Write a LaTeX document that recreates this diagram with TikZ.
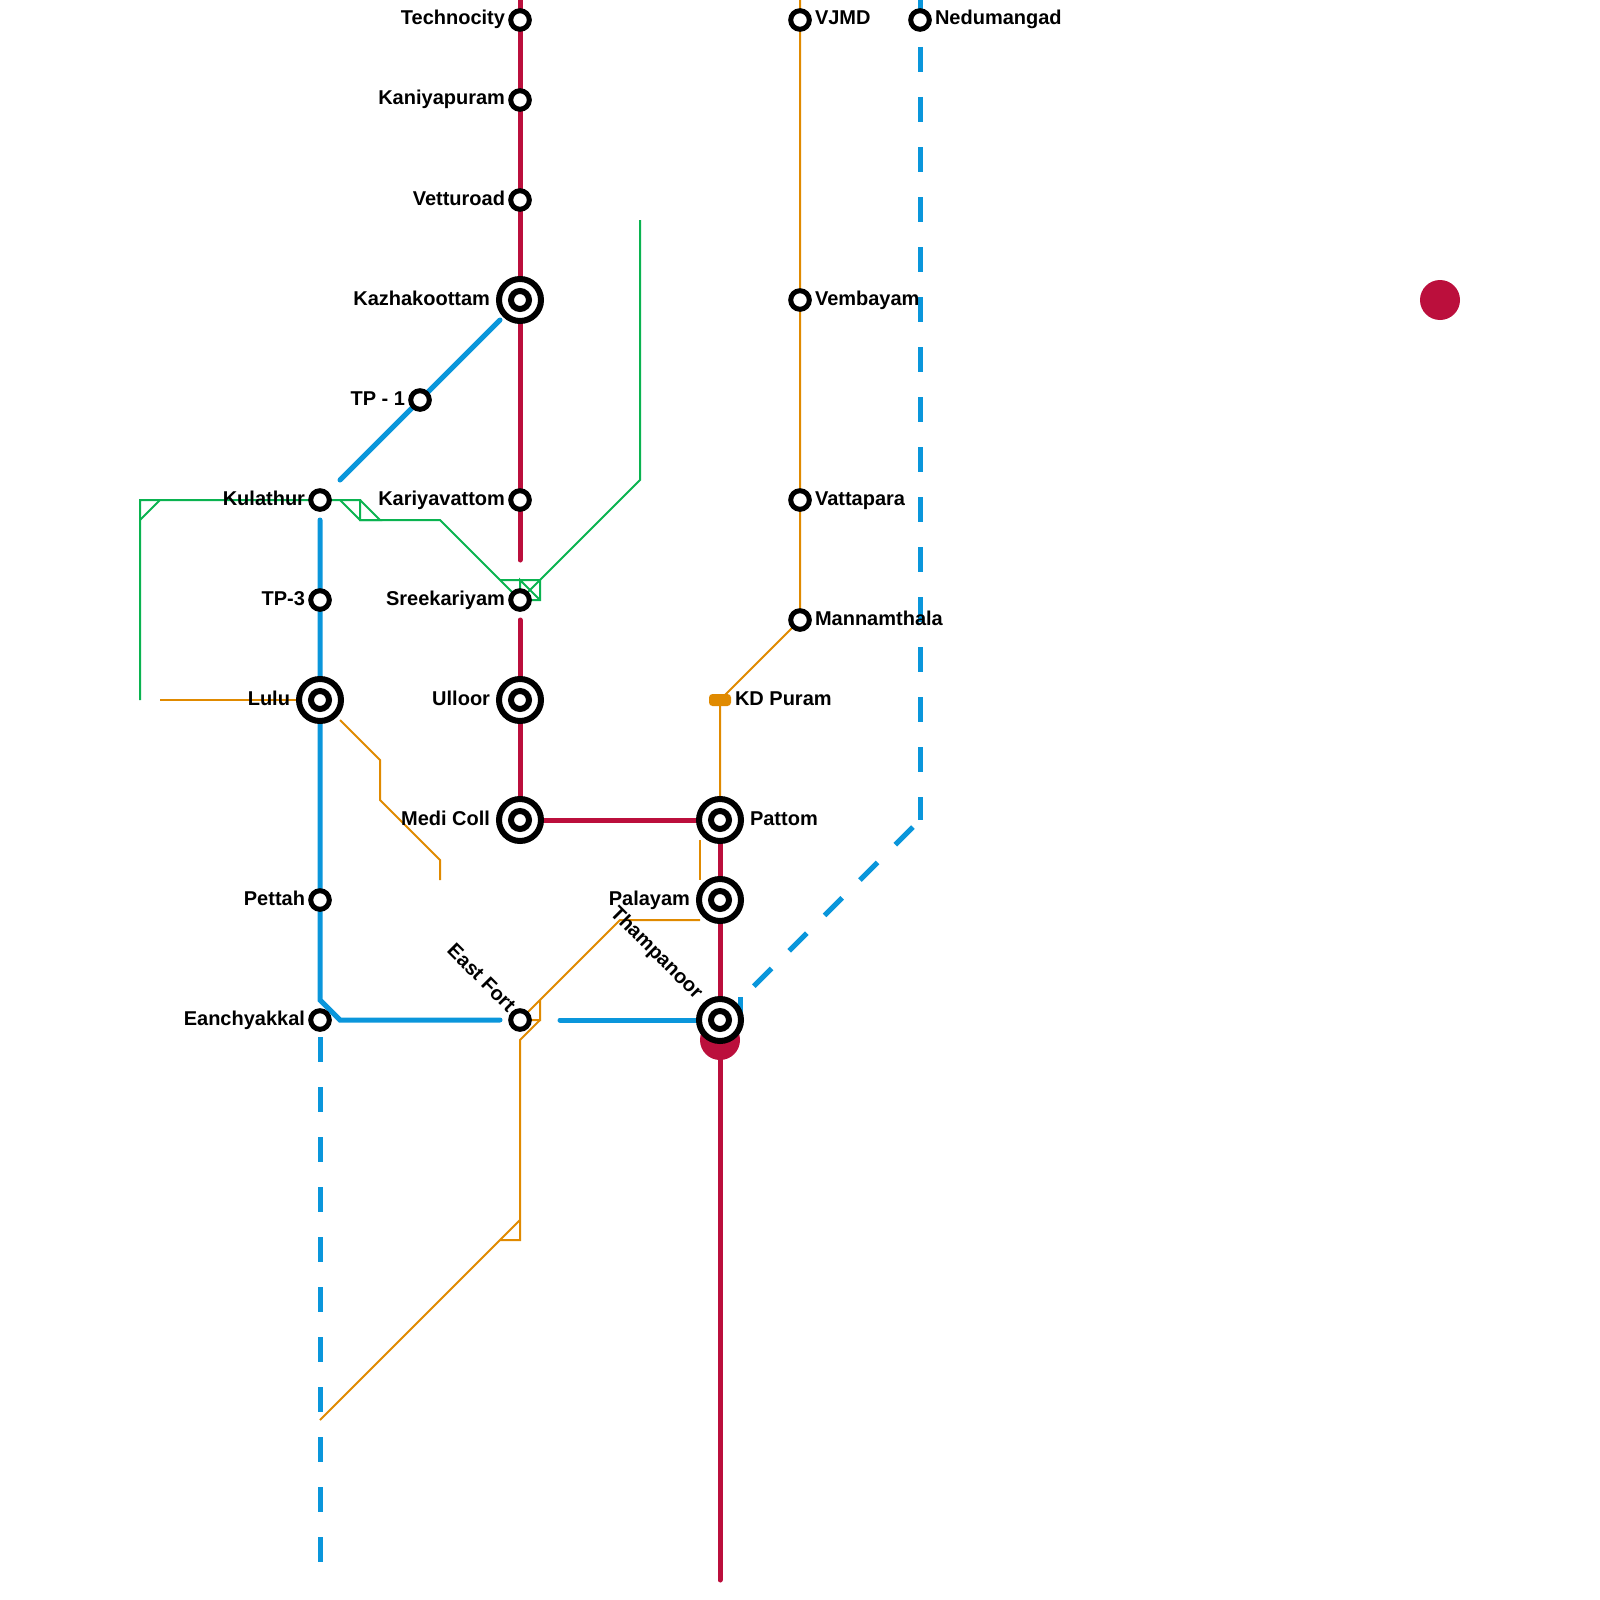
\documentclass[tikz,border=0pt]{standalone}
\usepackage{fontspec}
\setmainfont{Liberation Sans}
\usetikzlibrary{backgrounds}
\definecolor{lred}{HTML}{BB0F3C}
\definecolor{lblue}{HTML}{0A96DB}
\definecolor{lorange}{HTML}{E08A00}
\definecolor{lgreen}{HTML}{0AB350}
\tikzset{
  x=1pt,y=-1pt,
  ring/.style={circle,draw=black,fill=white,line width=5pt,inner sep=0pt,outer sep=0pt,minimum size=18.6pt},
  hubinner/.style={ring,line width=6pt,minimum size=18pt},
  hubring/.style={ring,line width=6pt,minimum size=42pt},
  redline/.style={draw=lred,line width=5pt,line cap=round,line join=round},
  blueline/.style={draw=lblue,line width=5pt,line cap=round,line join=miter},
  bluedash/.style={draw=lblue,line width=5pt,dash pattern=on 25pt off 25pt},
  orangeline/.style={draw=lorange,line width=2pt,line join=miter},
  greenline/.style={draw=lgreen,line width=2pt,line join=miter},
  reddot/.style={circle,fill=lred,inner sep=0pt,outer sep=0pt,minimum size=40pt},
  kdstop/.style={rectangle,rounded corners=3.5pt,fill=lorange,inner sep=0pt,outer sep=0pt,minimum width=22pt,minimum height=12pt},
  lab/.style={font=\bfseries\fontsize{20}{24}\selectfont,text=black,inner sep=0pt,outer sep=0pt},
  labl/.style={lab,anchor=base east},
  labr/.style={lab,anchor=base west},
}
\newcommand{\hubstop}[2]{\node[hubring] (#1o) at (#2) {};\node[hubinner] (#1) at (#2) {};}
\begin{document}
\begin{tikzpicture}
\useasboundingbox (0,0) rectangle (1600,1600);
% stations
\node[ring] (techno) at (520,20) {};
\node[ring] (kani) at (520,100) {};
\node[ring] (vettu) at (520,200) {};
\hubstop{kazh}{520,300}
\node[ring] (tpone) at (420,400) {};
\node[ring] (kari) at (520,500) {};
\node[ring] (sree) at (520,600) {};
\hubstop{ulloor}{520,700}
\hubstop{medi}{520,820}
\node[ring] (kulathur) at (320,500) {};
\node[ring] (tpthree) at (320,600) {};
\hubstop{lulu}{320,700}
\node[ring] (pettah) at (320,900) {};
\node[ring] (eanch) at (320,1020) {};
\node[ring] (eastfort) at (520,1020) {};
\hubstop{thampa}{720,1020}
\hubstop{palayam}{720,900}
\hubstop{pattom}{720,820}
\node[kdstop] (kd) at (720,700) {};
\node[ring] (manna) at (800,620) {};
\node[ring] (vatta) at (800,500) {};
\node[ring] (vemba) at (800,300) {};
\node[ring] (vjmd) at (800,20) {};
\node[ring] (nedu) at (920,20) {};
% free end points and bends
\foreach \n/\p in {
 gA/{140,700},gB/{140,500},gC/{360,500},gD/{360,520},gE/{440,520},gF/{500,580},gG/{540,580},gH/{540,600},gI/{520,580},gJ/{640,480},gK/{640,220},gL/{140,520},gM/{160,500},gN/{340,500},gO/{380,520},gP/{520,600},
 oA/{160,700},oB/{340,720},oC/{380,760},oD/{380,800},oE/{440,860},oF/{440,880},oG/{700,840},oH/{700,880},oI/{700,920},oJ/{620,920},oK/{520,1020},oL/{540,1000},oM/{540,1020},oN/{520,1040},oO/{520,1240},oP/{500,1240},oQ/{520,1220},oR/{320,1420},oS/{800,0},
 bA/{500,320},bB/{340,480},bC/{320,520},bD/{320,1000},bE/{340,1020},bF/{500,1020},bG/{560,1020},bH/{920,0},bI/{920,820},bJ/{740,1000},bK/{740,1020},bL/{320,1037},bM/{320,1562},
 rA/{520,0},rB/{520,560},rC/{520,620},rD/{720,1580}}
 {\coordinate (\n) at (\p);}
\begin{scope}[on background layer]
 \path[greenline] (gA) -- (gB) -- (gC) -- (gD) -- (gE) -- (gP);
 \path[greenline] (gL) -- (gM);
 \path[greenline] (gN) -- (gD) -- (gO) -- (gC);
 \path[greenline] (gF) -- (gG) -- (gH) -- (gP) -- (gI) -- (gH);
 \path[greenline] (gP) -- (gG) -- (gJ) -- (gK);
 \path[orangeline] (oA) -- (lulu.center);
 \path[orangeline] (oB) -- (oC) -- (oD) -- (oE) -- (oF);
 \path[orangeline] (oG) -- (oH);
 \path[orangeline] (oI) -- (oJ) -- (oK) -- (oM) -- (oL) -- (oK);
 \path[orangeline] (oM) -- (oN) -- (oO) -- (oP);
 \path[orangeline] (oQ) -- (oR);
 \path[orangeline] (oS) -- (manna.center) -- (kd.center) -- (pattom.center);
 \path[blueline] (bA) -- (bB);
 \path[blueline] (bC) -- (bD) -- (bE) -- (bF);
 \path[blueline] (bG) -- (thampa.center);
 \path[draw=lblue,line width=5pt] (bJ) ++(0,-3) -- (bK);
 \path[bluedash,dash phase=3pt] (bH) -- (bI);
 \path[bluedash,dash phase=40pt] (bI) -- (bJ);
 \path[bluedash] (bL) -- (bM);
 \node[reddot] (dotA) at (720,1040) {};
 \node[reddot] (dotB) at (1440,300) {};
 \path[redline] (rA) -- (rB);
 \path[redline] (rC) -- (medi.center) -- (pattom.center) -- (rD);
\end{scope}
% labels
\node[labl] (ltechno) at (505,25) {Technocity};
\node[labl] (lkani) at (505,105) {Kaniyapuram};
\node[labl] (lvettu) at (505,205) {Vetturoad};
\node[labl] (lkazh) at (490,305) {Kazhakoottam};
\node[labl] (ltp) at (405,405) {TP - 1};
\node[labl] (lkari) at (505,505) {Kariyavattom};
\node[labl] (lsree) at (505,605) {Sreekariyam};
\node[labl] (lull) at (490,705) {Ulloor};
\node[labl] (lmedi) at (490,825) {Medi Coll};
\node[labl] (lkul) at (305,505) {Kulathur};
\node[labl] (ltpt) at (305,605) {TP-3};
\node[labl] (llulu) at (290,705) {Lulu};
\node[labl] (lpet) at (305,905) {Pettah};
\node[labl] (lean) at (305,1025) {Eanchyakkal};
\node[labl] (lpal) at (690,905) {Palayam};
\node[labl,rotate=-45] (least) at (507.5,1013) {East Fort};
\node[labl,rotate=-45] (lthamp) at (695,1000) {Thampanoor};
\node[labr] (lpat) at (750,825) {Pattom};
\node[labr] (lkd) at (735,705) {KD Puram};
\node[labr] (lman) at (815,625) {Mannamthala};
\node[labr] (lvat) at (815,505) {Vattapara};
\node[labr] (lvem) at (815,305) {Vembayam};
\node[labr] (lvj) at (815,25) {VJMD};
\node[labr] (lned) at (935,25) {Nedumangad};
\end{tikzpicture}
\end{document}
